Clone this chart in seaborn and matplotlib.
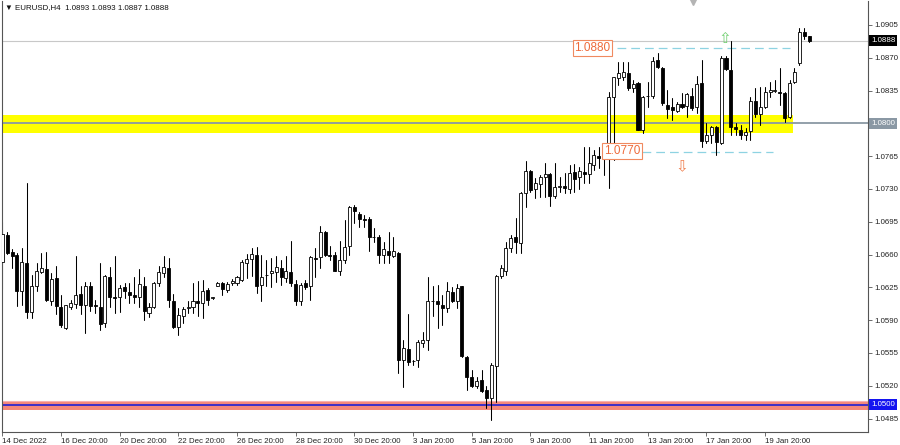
import numpy as np
import pandas as pd
import matplotlib
matplotlib.use("Agg")
import matplotlib.pyplot as plt
import seaborn as sns
from matplotlib.transforms import blended_transform_factory

# ---- data (EURUSD H4 candles) ----
opens = [1.0652,1.0681,1.0663,1.0660,1.0621,1.0651,1.0599,1.0626,1.0641,1.0645,
         1.0611,1.0635,1.0604,1.0582,1.0604,1.0607,1.0618,1.0606,1.0627,1.0606,
         1.0604,1.0587,1.0636,1.0615,1.0615,1.0625,1.0620,1.0617,1.0615,1.0627,
         1.0598,1.0604,1.0630,1.0640,1.0646,1.0610,1.0583,1.0595,1.0603,1.0604,
         1.0610,1.0608,1.0622,1.0614,1.0627,1.0630,1.0622,1.0630,1.0630,1.0633,
         1.0651,1.0655,1.0660,1.0628,1.0638,1.0640,1.0641,1.0646,1.0635,1.0641,
         1.0629,1.0610,1.0630,1.0626,1.0656,1.0657,1.0684,1.0660,1.0660,1.0642,
         1.0654,1.0669,1.0711,1.0703,1.0698,1.0698,1.0679,1.0679,1.0660,1.0664,
         1.0658,1.0662,1.0548,1.0559,1.0546,1.0548,1.0566,1.0569,1.0610,1.0611,
         1.0606,1.0603,1.0620,1.0610,1.0626,1.0551,1.0529,1.0520,1.0526,1.0516,
         1.0507,1.0541,1.0637,1.0642,1.0667,1.0679,1.0672,1.0726,1.0749,1.0730,
         1.0735,1.0743,1.0746,1.0722,1.0732,1.0733,1.0730,1.0748,1.0743,1.0748,
         1.0746,1.0756,1.0765,1.0764,1.0764,1.0828,1.0848,1.0849,1.0854,1.0838,
         1.0843,1.0793,1.0829,1.0829,1.0868,1.0859,1.0820,1.0817,1.0813,1.0821,
         1.0819,1.0829,1.0817,1.0843,1.0781,1.0788,1.0796,1.0779,1.0870,1.0857,
         1.0796,1.0793,1.0788,1.0792,1.0824,1.0810,1.0817,1.0833,1.0835,1.0834,
         1.0832,1.0807,1.0844,1.0864,1.0897,1.0893]
highs = [1.0695,1.0684,1.0666,1.0662,1.0667,1.0736,1.0638,1.0651,1.0662,1.0663,
         1.0640,1.0648,1.0617,1.0606,1.0612,1.0658,1.0626,1.0631,1.0631,1.0612,
         1.0651,1.0638,1.0647,1.0658,1.0628,1.0630,1.0630,1.0636,1.0645,1.0636,
         1.0608,1.0631,1.0648,1.0659,1.0656,1.0618,1.0603,1.0604,1.0610,1.0630,
         1.0632,1.0633,1.0624,1.0615,1.0631,1.0631,1.0631,1.0634,1.0637,1.0654,
         1.0661,1.0667,1.0668,1.0660,1.0654,1.0656,1.0658,1.0654,1.0658,1.0675,
         1.0633,1.0630,1.0633,1.0658,1.0667,1.0690,1.0685,1.0669,1.0663,1.0674,
         1.0697,1.0712,1.0713,1.0705,1.0702,1.0700,1.0688,1.0681,1.0673,1.0684,
         1.0679,1.0663,1.0569,1.0597,1.0548,1.0569,1.0577,1.0636,1.0626,1.0628,
         1.0617,1.0631,1.0625,1.0629,1.0627,1.0552,1.0537,1.0529,1.0537,1.0520,
         1.0544,1.0638,1.0649,1.0673,1.0681,1.0699,1.0727,1.0760,1.0750,1.0742,
         1.0745,1.0758,1.0747,1.0758,1.0743,1.0747,1.0756,1.0757,1.0754,1.0775,
         1.0775,1.0772,1.0775,1.0775,1.0833,1.0850,1.0866,1.0866,1.0866,1.0846,
         1.0844,1.0829,1.0844,1.0871,1.0875,1.0860,1.0836,1.0827,1.0823,1.0832,
         1.0832,1.0838,1.0851,1.0868,1.0800,1.0797,1.0797,1.0872,1.0872,1.0888,
         1.0800,1.0798,1.0795,1.0828,1.0838,1.0839,1.0839,1.0844,1.0846,1.0859,
         1.0833,1.0846,1.0859,1.0902,1.0902,1.0893]
lows = [1.0623,1.0661,1.0646,1.0605,1.0606,1.0592,1.0592,1.0621,1.0640,1.0610,
        1.0606,1.0597,1.0583,1.0581,1.0602,1.0603,1.0597,1.0576,1.0600,1.0598,
        1.0580,1.0583,1.0604,1.0598,1.0599,1.0614,1.0608,1.0608,1.0604,1.0590,
        1.0593,1.0603,1.0626,1.0636,1.0604,1.0582,1.0574,1.0587,1.0598,1.0598,
        1.0595,1.0592,1.0606,1.0613,1.0626,1.0617,1.0620,1.0628,1.0628,1.0632,
        1.0635,1.0637,1.0619,1.0611,1.0626,1.0625,1.0631,1.0628,1.0631,1.0627,
        1.0606,1.0606,1.0623,1.0612,1.0636,1.0646,1.0658,1.0654,1.0642,1.0638,
        1.0651,1.0660,1.0694,1.0689,1.0689,1.0664,1.0673,1.0651,1.0651,1.0651,
        1.0657,1.0534,1.0519,1.0542,1.0542,1.0540,1.0561,1.0558,1.0595,1.0582,
        1.0585,1.0599,1.0609,1.0603,1.0551,1.0515,1.0519,1.0518,1.0513,1.0496,
        1.0484,1.0503,1.0635,1.0638,1.0663,1.0662,1.0662,1.0711,1.0727,1.0720,
        1.0721,1.0721,1.0712,1.0720,1.0727,1.0726,1.0726,1.0727,1.0730,1.0736,
        1.0736,1.0750,1.0752,1.0745,1.0731,1.0761,1.0841,1.0846,1.0836,1.0834,
        1.0793,1.0790,1.0817,1.0827,1.0859,1.0820,1.0806,1.0804,1.0812,1.0816,
        1.0807,1.0814,1.0811,1.0775,1.0779,1.0779,1.0766,1.0778,1.0857,1.0788,
        1.0788,1.0783,1.0782,1.0782,1.0807,1.0798,1.0816,1.0828,1.0833,1.0820,
        1.0802,1.0806,1.0843,1.0862,1.0890,1.0887]
closes = [1.0682,1.0662,1.0658,1.0621,1.0652,1.0599,1.0627,1.0642,1.0646,1.0612,
          1.0634,1.0605,1.0585,1.0606,1.0608,1.0617,1.0606,1.0626,1.0605,1.0605,
          1.0586,1.0637,1.0615,1.0614,1.0624,1.0621,1.0617,1.0615,1.0629,1.0600,
          1.0604,1.0630,1.0641,1.0647,1.0612,1.0583,1.0596,1.0602,1.0604,1.0610,
          1.0608,1.0621,1.0612,1.0614,1.0630,1.0623,1.0629,1.0632,1.0636,1.0652,
          1.0655,1.0661,1.0627,1.0636,1.0638,1.0643,1.0647,1.0636,1.0642,1.0630,
          1.0611,1.0628,1.0625,1.0657,1.0655,1.0684,1.0660,1.0659,1.0643,1.0654,
          1.0668,1.0711,1.0707,1.0698,1.0697,1.0679,1.0679,1.0660,1.0666,1.0660,
          1.0664,1.0548,1.0560,1.0545,1.0546,1.0567,1.0569,1.0610,1.0611,1.0607,
          1.0603,1.0621,1.0610,1.0624,1.0552,1.0529,1.0520,1.0525,1.0514,1.0507,
          1.0542,1.0637,1.0646,1.0667,1.0678,1.0673,1.0726,1.0749,1.0729,1.0736,
          1.0743,1.0746,1.0722,1.0732,1.0733,1.0731,1.0747,1.0741,1.0749,1.0746,
          1.0758,1.0766,1.0763,1.0766,1.0828,1.0849,1.0854,1.0855,1.0838,1.0842,
          1.0793,1.0828,1.0829,1.0867,1.0860,1.0822,1.0815,1.0814,1.0821,1.0817,
          1.0831,1.0816,1.0842,1.0781,1.0788,1.0796,1.0780,1.0870,1.0858,1.0796,
          1.0794,1.0788,1.0791,1.0824,1.0810,1.0817,1.0834,1.0836,1.0836,1.0832,
          1.0806,1.0843,1.0855,1.0898,1.0893,1.0888]

time_tick_pos = [0, 12, 24, 36, 48, 60, 72, 84, 96, 108, 120, 132, 144, 156]
time_tick_labels = ["14 Dec 2022", "16 Dec 20:00", "20 Dec 20:00", "22 Dec 20:00",
                    "26 Dec 20:00", "28 Dec 20:00", "30 Dec 20:00", "3 Jan 20:00",
                    "5 Jan 20:00", "9 Jan 20:00", "11 Jan 20:00", "13 Jan 20:00",
                    "17 Jan 20:00", "19 Jan 20:00"]
price_ticks = [1.0485, 1.0520, 1.0555, 1.0590, 1.0625, 1.0660, 1.0695,
               1.0730, 1.0765, 1.0800, 1.0835, 1.0870, 1.0905]

zone_low, zone_high = 1.0790, 1.0809       # yellow zone
support_low, support_high = 1.0494, 1.0504  # red zone
support_level = 1.0500
mid_level = 1.0800
level_up, level_down = 1.0880, 1.0770
current_price = 1.0888
title = "\u25BC EURUSD,H4  1.0893 1.0893 1.0887 1.0888"

# ---- build frames ----
n = len(opens)
idx = np.arange(n)
df = pd.DataFrame({"idx": idx, "open": opens, "high": highs, "low": lows, "close": closes})
wicks = pd.concat([
    pd.DataFrame({"idx": idx, "price": lows, "candle": idx}),
    pd.DataFrame({"idx": idx, "price": highs, "candle": idx}),
]).sort_values(["candle", "price"]).reset_index(drop=True)

sns.set_theme(style="white")
plt.rcParams['font.family'] = ['Liberation Sans', 'DejaVu Sans']

fig = plt.figure(figsize=(9, 4.45), dpi=100)
ax = fig.add_axes([2 / 900, 13 / 445, 866 / 900, 431 / 445])

x0 = -0.06
x1 = x0 + 866 / 4.89
ax.set_xlim(x0, x1)
ax.set_ylim(1.04707, 1.09306)

# zones and levels
ax.fill_between([x0, 161.8], zone_low, zone_high, color="#ffff00", lw=0, zorder=0)
ax.axhline(mid_level, color="#8a98a4", lw=1.3, zorder=1)
ax.axhline(current_price, color="#c8c8c8", lw=0.8, zorder=1)
ax.axhspan(support_low, support_high, color="#f4877a", lw=0, zorder=0)
ax.axhline(support_high - 0.00002, color="#f7b0b0", lw=0.8, zorder=1)
ax.axhline(support_level, color="#3b2fc9", lw=1.4, zorder=1)

ax.plot([125.7, 161.1], [level_up, level_up], color="#8ed3e2", lw=0.9,
        linestyle=(0, (7, 4)), zorder=1)
ax.plot([130.8, 157.6], [level_down, level_down], color="#8ed3e2", lw=0.9,
        linestyle=(0, (7, 4)), zorder=1)

# wicks (seaborn) and bodies
sns.lineplot(data=wicks, x="idx", y="price", units="candle", estimator=None,
             sort=False, color="black", linewidth=0.75, ax=ax, legend=False, zorder=2)
bottoms = np.minimum(df["open"], df["close"])
heights = np.maximum(np.abs(df["close"] - df["open"]), 0.00003)
faces = np.where(df["close"] >= df["open"], "white", "black")
ax.bar(df["idx"], heights, bottom=bottoms, width=0.62, color=faces,
       edgecolor="black", linewidth=0.6, zorder=3)

# level labels
ax.text(120.7, 1.08805, "1.0880", color="#ee6a3a", fontsize=8.5, ha="center", va="center",
        bbox=dict(boxstyle="square,pad=0.15", fc="white", ec="#f08a60", lw=0.8), zorder=5)
ax.text(126.7, 1.07705, "1.0770", color="#ee6a3a", fontsize=8.5, ha="center", va="center",
        bbox=dict(boxstyle="square,pad=0.15", fc="white", ec="#f08a60", lw=0.8), zorder=5)
ax.text(147.7, 1.0891, "\u21E7", color="#6fcf6f", fontsize=11, ha="center", va="center",
        family=["DejaVu Sans"], zorder=5)
ax.text(138.9, 1.0754, "\u21E9", color="#f08050", fontsize=11, ha="center", va="center",
        family=["DejaVu Sans"], zorder=5)
ax.plot([141.3], [1.0929], marker="v", color="#b4b4b4", ms=4, clip_on=False, zorder=5)

# axes styling
for s in ["left", "right", "bottom"]:
    ax.spines[s].set_visible(True)
    ax.spines[s].set_color("#555555")
    ax.spines[s].set_linewidth(0.8)
ax.spines["top"].set_visible(False)
ax.set_xlabel("")
ax.set_ylabel("")

ax.set_xticks(time_tick_pos)
ax.set_xticklabels(time_tick_labels, ha="left", fontsize=5.7, color="#222222")
ax.tick_params(axis="x", direction="out", length=3, width=0.6, color="#555555", pad=1.5,
               bottom=True)
ax.yaxis.tick_right()
ax.set_yticks(price_ticks)
# the 1.0800 value is shown by its coloured tag instead of a plain tick label
ax.set_yticklabels(["" if abs(p - mid_level) < 1e-9 else f"{p:.4f}" for p in price_ticks],
                   fontsize=5.7, color="#222222")
ax.tick_params(axis="y", direction="out", length=3, width=0.6, color="#555555", pad=1.5,
               right=True, left=False)
ax.grid(False)

trans = blended_transform_factory(ax.transAxes, ax.transData)
for val, bg in [(current_price, "black"), (mid_level, "#8a98a4"), (support_level, "#1414f0")]:
    ax.text(1.0035, val, f"{val:.4f}", transform=trans, ha="left", va="center",
            color="white", fontsize=5.7, clip_on=False, zorder=10,
            bbox=dict(boxstyle="square,pad=0.25", fc=bg, ec="none"))

fig.text(5 / 900, 1 - 8 / 445, title, fontsize=5.7, ha="left", va="center", color="#111111")

fig.savefig("out.png", dpi=100)
